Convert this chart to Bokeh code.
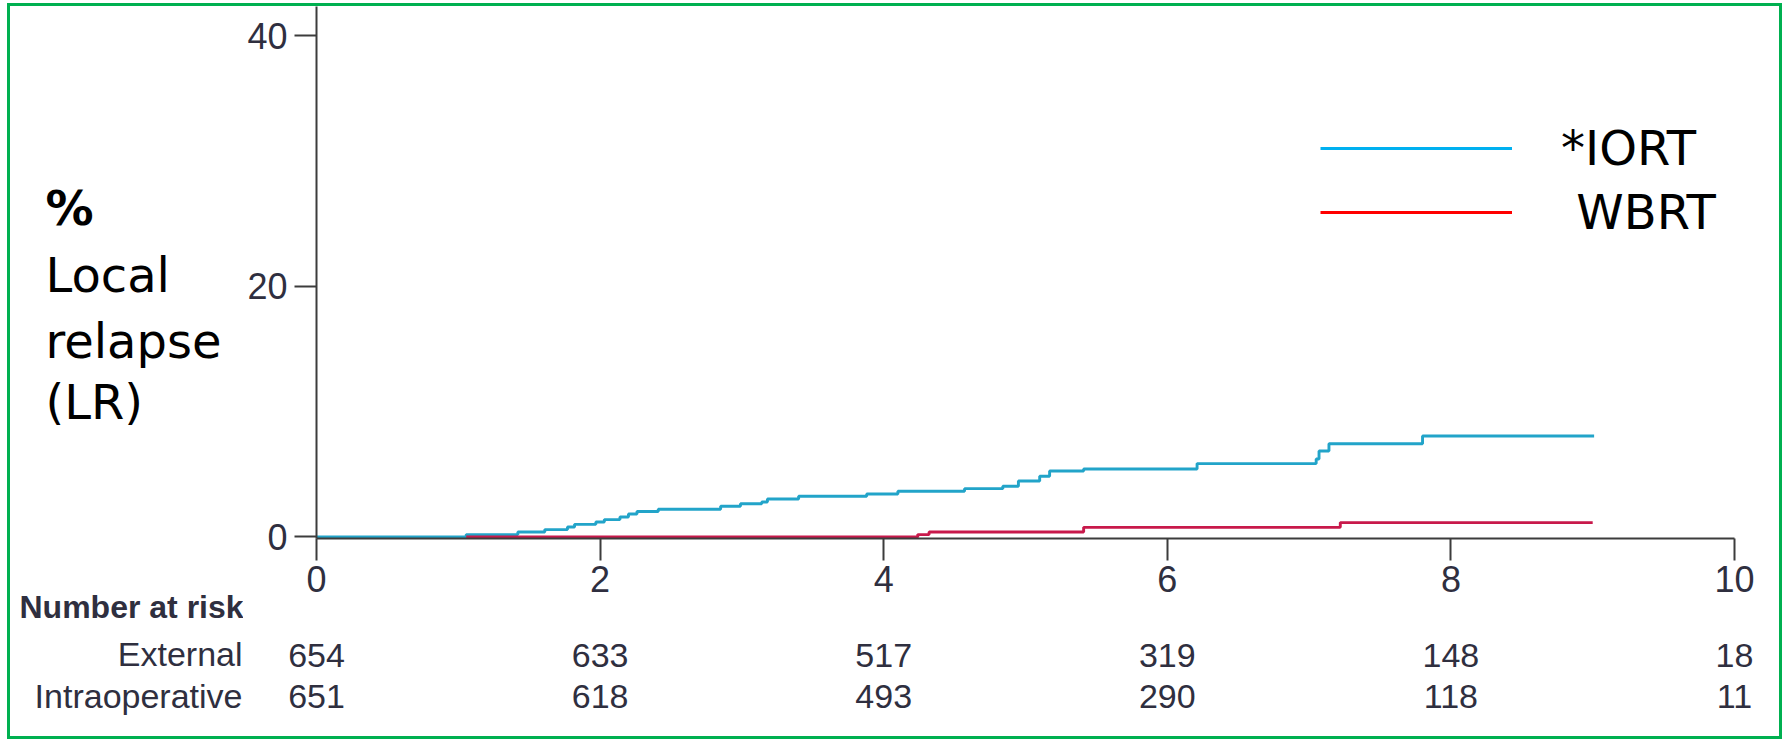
from bokeh.plotting import figure
from bokeh.models import Range1d, FixedTicker, Legend, LegendItem
from bokeh.layouts import row, column
from bokeh.core.properties import value
from bokeh.embed import file_html
from bokeh.resources import INLINE

# ---- data ----
iort_t = [0, 1.056, 1.42, 1.61, 1.77, 1.82, 1.97, 2.03, 2.14, 2.20, 2.26, 2.41, 2.85,
          2.99, 3.14, 3.18, 3.40, 3.88, 4.10, 4.57, 4.84, 4.95, 5.10, 5.17, 5.41,
          6.21, 7.05, 7.07, 7.14, 7.80, 9.01]
iort_y = [0, 0.19, 0.40, 0.59, 0.80, 1.01, 1.20, 1.39, 1.60, 1.84, 2.03, 2.21, 2.45,
          2.66, 2.79, 3.03, 3.25, 3.43, 3.65, 3.86, 4.05, 4.47, 4.85, 5.27, 5.43,
          5.86, 6.23, 6.87, 7.45, 8.06, 8.06]
wbrt_t = [1.056, 4.24, 4.32, 5.41, 7.22, 9.00]
wbrt_y = [0, 0.19, 0.40, 0.77, 1.15, 1.15]

x_ticks = [0, 2, 4, 6, 8, 10]
y_ticks = [0, 20, 40]

risk_times = [0, 2, 4, 6, 8, 10]
external_risk = ["654", "633", "517", "319", "148", "18"]
intraop_risk = ["651", "618", "493", "290", "118", "11"]
risk_title = "Number at risk"
risk_rows = ["External", "Intraoperative"]

series_labels = ["*IORT", " WBRT"]
ylabel_lines = ["%", "Local", "relapse", "(LR)"]

curve_blue = "#22a4c9"
curve_red = "#c8194b"
legend_blue = "#00b0f0"
legend_red = "#ff0000"
text_dark = "#2f2f3f"
axis_col = "#3c3c3c"
hand_font = "DejaVu Sans"
paper_font = "Liberation Sans"

# ---- layout geometry (pixels) ----
W, H = 1769, 730          # content inside the green frame
A_W = 233                 # left text column
B_W = W - A_W
B_H = 630
C_H = H - B_H
px_x = 141.8              # px per year
x0_off = 73               # y axis panel width inside the main figure


def no_align(f):
    try:
        f.frame_align = False
    except AttributeError:
        pass


def bare(width, height, xr, yr):
    f = figure(width=width, height=height, output_backend="svg", toolbar_location=None,
               title=None, x_range=xr, y_range=yr, x_axis_type=None, y_axis_type=None,
               min_border=0, tools="")
    f.outline_line_color = None
    f.background_fill_color = "white"
    f.border_fill_color = "white"
    no_align(f)
    return f


# ---- main plot ----
p = figure(width=B_W, height=B_H, output_backend="svg", toolbar_location=None,
           title=None, tools="", x_range=Range1d(0, 10), y_range=Range1d(-0.12, 42.355),
           min_border_left=x0_off, min_border_right=45, min_border_top=0,
           min_border_bottom=98)
no_align(p)
p.outline_line_color = None
p.xgrid.visible = False
p.ygrid.visible = False
p.background_fill_color = "white"
p.border_fill_color = "white"

for ax in (p.xaxis[0], p.yaxis[0]):
    ax.major_tick_out = 22
    ax.major_tick_in = 0
    ax.minor_tick_out = 0
    ax.minor_tick_in = 0
    ax.axis_line_width = 2
    ax.axis_line_color = axis_col
    ax.major_tick_line_width = 2
    ax.major_tick_line_color = axis_col
    ax.major_label_text_font = paper_font
    ax.major_label_text_font_size = "36px"
    ax.major_label_text_color = text_dark
p.xaxis.ticker = FixedTicker(ticks=x_ticks)
p.yaxis.ticker = FixedTicker(ticks=y_ticks)
p.xaxis.major_label_standoff = 5
p.yaxis.major_label_standoff = 7

p.step(x=iort_t, y=iort_y, mode="after", line_width=2.9, line_color=curve_blue)
p.step(x=wbrt_t, y=wbrt_y, mode="after", line_width=2.9, line_color=curve_red)

# legend keys in their own colours (single-point lines draw nothing in the plot)
lb = p.line(x=iort_t[:1], y=iort_y[:1], line_color=legend_blue, line_width=3)
lr = p.line(x=wbrt_t[:1], y=wbrt_y[:1], line_color=legend_red, line_width=3)
legend = Legend(items=[LegendItem(label=series_labels[0], renderers=[lb]),
                       LegendItem(label=series_labels[1], renderers=[lr])],
                location=(1004, 294), glyph_width=192, glyph_height=64,
                label_height=64, spacing=0, padding=0, margin=0,
                label_standoff=49, border_line_color=None,
                background_fill_alpha=0, label_text_font=hand_font,
                label_text_font_size="48px", label_text_color="black")
p.add_layout(legend)

# ---- left column: y label and risk-table row names ----
a = bare(A_W, H, Range1d(0, A_W), Range1d(H, 0))
a.text(x=[35], y=[201], text=ylabel_lines[:1], text_font=value(hand_font),
       text_font_size="48px", text_font_style="bold", text_color="black",
       text_baseline="alphabetic")
a.text(x=[35, 35, 35], y=[268, 334, 395], text=ylabel_lines[1:], text_font=value(hand_font),
       text_font_size="48px", text_color="black", text_baseline="alphabetic")
a.text(x=[9], y=[600], text=[risk_title], text_font=value(paper_font),
       text_font_size="32px", text_font_style="bold", text_color=text_dark,
       text_baseline="alphabetic")
a.text(x=[232, 232], y=[647, 689.5], text=risk_rows, text_font=value(paper_font),
       text_font_size="34px", text_color=text_dark, text_align="right",
       text_baseline="alphabetic")

# ---- bottom: numbers at risk aligned with the time axis ----
xs = -x0_off / px_x
c = bare(B_W, C_H, Range1d(xs, xs + B_W / px_x), Range1d(C_H, 0))
for vals, yy in zip([external_risk, intraop_risk], [18.5, 59.5]):
    c.text(x=risk_times, y=[yy] * len(risk_times), text=vals, text_font=value(paper_font),
           text_font_size="34px", text_color=text_dark, text_align="center",
           text_baseline="alphabetic")

root = row(a, column(p, c), styles={"border": "3px solid #00b050",
                                    "margin": "3px 0px 0px 7px"})

open("out.html", "w").write(file_html(root, INLINE))
